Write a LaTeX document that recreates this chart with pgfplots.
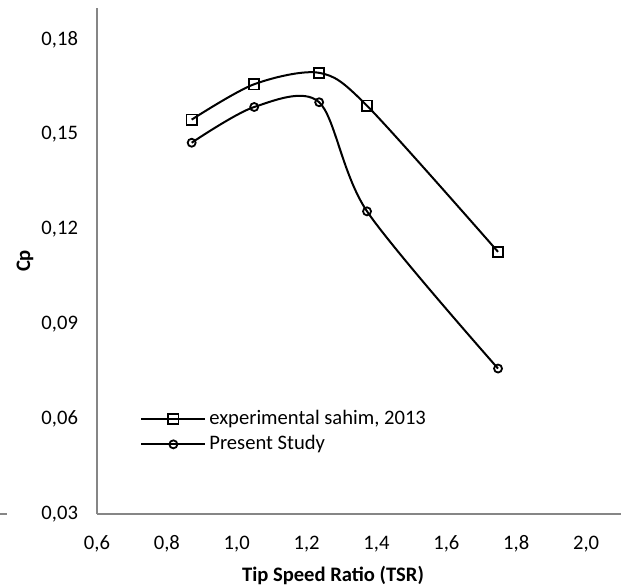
\documentclass[border=0pt]{standalone}
\usepackage{pgfplots}
\pgfplotsset{compat=1.18}
\usepackage{fontspec}
\setmainfont{Carlito}
\definecolor{axgray}{RGB}{134,134,134}
\begin{document}
\begin{tikzpicture}
\begin{axis}[
  scale only axis,
  width=262pt, height=253pt,
  xmin=0.6, xmax=2.1, ymin=0.03, ymax=0.19,
  axis lines=left,
  axis line style={-, draw=axgray, line width=0.75pt},
  xtick={0.6,0.8,1.0,1.2,1.4,1.6,1.8,2.0},
  ytick={0.03,0.06,0.09,0.12,0.15,0.18},
  major tick length=0pt,
  tick style={draw=none},
  /pgf/number format/assume math mode=true,
  /pgf/number format/use comma,
  xticklabel style={/pgf/number format/fixed,/pgf/number format/fixed zerofill,/pgf/number format/precision=1, anchor=center, text height=7pt, text depth=2pt},
  xticklabel shift=15pt,
  yticklabel style={/pgf/number format/fixed,/pgf/number format/fixed zerofill,/pgf/number format/precision=2, xshift=-6pt},
  ticklabel style={font=\fontsize{10.3}{12}\selectfont},
  xlabel={Tip Speed Ratio (TSR)},
  ylabel={Cp},
  xlabel style={at={(rel axis cs:0.4504,0)}, anchor=center, yshift=-30.5pt, font=\fontsize{10.3}{12}\selectfont\bfseries},
  ylabel style={at={(rel axis cs:0,0.5)}, anchor=center, yshift=36pt, font=\fontsize{10.3}{12}\selectfont\bfseries},
  legend style={at={(rel axis cs:0.082,0.2115)}, anchor=north west, draw=none, fill=none,
    font=\fontsize{10.3}{12}\selectfont, row sep=1pt, inner sep=0pt,
    nodes={inner sep=1.5pt}},
  legend cell align=left,
  legend image code/.code={\draw[mark repeat=2,mark phase=2] plot coordinates {(0pt,0pt)(16pt,0pt)(32pt,0pt)};},
  clip=false,
]
\addplot[black, line width=1pt, smooth, mark=square, mark size=2.6pt, mark options={solid, line width=0.9pt, fill=none}]
coordinates {(0.871,0.1547) (1.050,0.1659) (1.236,0.1695) (1.373,0.1591) (1.748,0.1129)};
\addlegendentry{experimental sahim, 2013}
\addplot[black, line width=1pt, smooth, mark=o, mark size=2pt, mark options={solid, line width=0.9pt, fill=none}]
coordinates {(0.871,0.1474) (1.050,0.1587) (1.236,0.1602) (1.373,0.1257) (1.748,0.0760)};
\addlegendentry{Present Study}
\coordinate (sw) at (rel axis cs:0,0);
\coordinate (ne) at (rel axis cs:1,1);
\end{axis}
\draw[axgray, line width=0.75pt] ([xshift=-48.5pt]sw) -- ([xshift=-45pt]sw);
\pgfresetboundingbox
\path[use as bounding box] ([xshift=-48.5pt,yshift=-35.5pt]sw) rectangle ([yshift=4pt]ne);
\end{tikzpicture}
\end{document}
